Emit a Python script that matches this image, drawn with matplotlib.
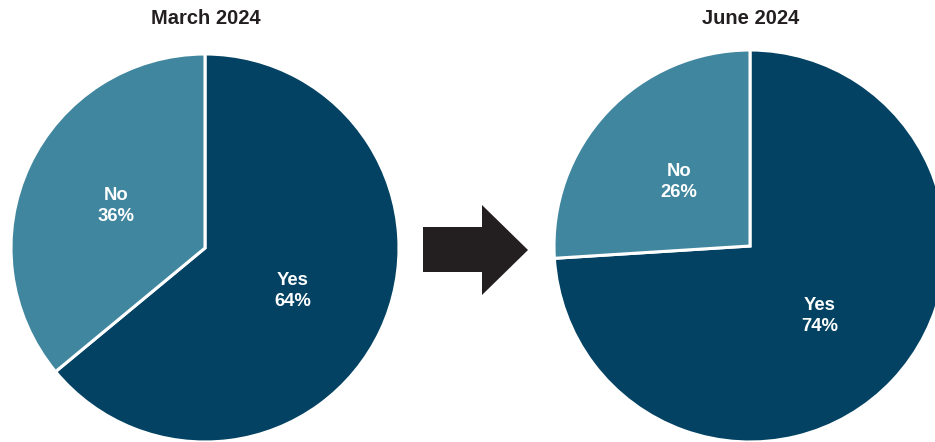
import matplotlib
matplotlib.use("Agg")
import matplotlib.pyplot as plt
from matplotlib.patches import Polygon

plt.rcParams['font.family'] = ['Liberation Sans', 'DejaVu Sans']

# Survey results
periods = ["March 2024", "June 2024"]
categories = ["Yes", "No"]
march_values = [64, 36]
june_values = [74, 26]

YES_COLOR = "#034263"
NO_COLOR = "#41869f"
TITLE_COLOR = "#231f20"

W, H = 935, 442
fig = plt.figure(figsize=(W / 100, H / 100), dpi=100)
ax = fig.add_axes([0, 0, 1, 1])
ax.set_xlim(0, W)
ax.set_ylim(0, H)
ax.set_aspect("equal")
ax.axis("off")

pies = [
    # (values, centre x, centre y (from top), radius, label positions from top)
    (march_values, 205, 248, 194, [(293, 291), (116, 206)]),
    (june_values, 750, 246, 196, [(820, 316), (679, 182)]),
]

for title, (vals, cx, cy, r, label_pos) in zip(periods, pies):
    # Yes runs clockwise from 12 o'clock, No fills the remainder
    ax.pie(vals, colors=[YES_COLOR, NO_COLOR], startangle=90, counterclock=False,
           center=(cx, H - cy), radius=r,
           wedgeprops=dict(edgecolor="white", linewidth=2.2))
    for cat, v, (lx, ly) in zip(categories, vals, label_pos):
        ax.text(lx, H - ly, f"{cat}\n{v}%", color="white", fontsize=13.3,
                fontweight="bold", ha="center", va="center", linespacing=1.3)
    ax.text(cx + 1, H - 18, title, color=TITLE_COLOR, fontsize=14.5,
            fontweight="bold", ha="center", va="center")

ax.set_xlim(0, W)
ax.set_ylim(0, H)

# Arrow between the two pies
arrow_pts = [(423, 227), (482, 227), (482, 205), (528, 250),
             (482, 295), (482, 272), (423, 272)]
ax.add_patch(Polygon([(x, H - y) for x, y in arrow_pts], closed=True,
                     facecolor="#231f20", edgecolor="none"))

fig.savefig("out.png", dpi=100)
